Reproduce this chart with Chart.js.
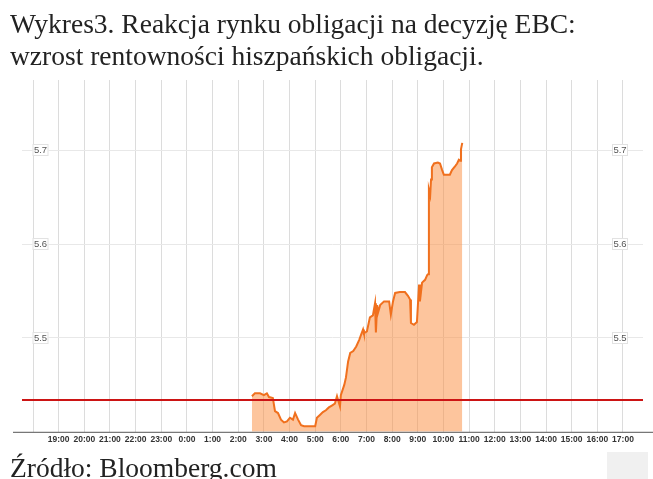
<!DOCTYPE html>
<html><head><meta charset="utf-8">
<script src="https://cdn.jsdelivr.net/npm/chart.js@4"></script>
<style>
html,body{margin:0;padding:0;background:#fff;width:653px;height:479px;overflow:hidden}
#wrap{position:relative;width:653px;height:479px}
canvas{position:absolute;left:0;top:0}
#title{position:absolute;left:10px;top:8px;font-family:"Liberation Serif","Times New Roman",serif;font-size:27.5px;line-height:32px;color:#222;white-space:nowrap}
#src{position:absolute;left:10px;top:452px;font-family:"Liberation Serif","Times New Roman",serif;font-size:27.5px;line-height:31px;color:#222;white-space:nowrap}
#box{position:absolute;left:607px;top:452px;width:41px;height:27px;background:#f0f0f0}
</style></head>
<body><div id="wrap">
<canvas id="c" width="653" height="479"></canvas>
<div id="title">Wykres3. Reakcja rynku obligacji na decyzję EBC:<br>wzrost rentowności hiszpańskich obligacji.</div>
<div id="src">Źródło: Bloomberg.com</div>
<div id="box"></div>
</div>
<script>
// Axis: hours counted from 18:00 of the previous day
const tickLabels = ["", "19:00","20:00","21:00","22:00","23:00","0:00","1:00","2:00","3:00","4:00","5:00","6:00","7:00","8:00","9:00","10:00","11:00","12:00","13:00","14:00","15:00","16:00","17:00"];
const yTickValues = [5.5, 5.6, 5.7];
const previousClose = 5.434;

// Spanish 10Y yield, intraday (clock times, next day)
const times = ["2:32","2:39","2:51","3:00","3:07","3:12","3:21","3:26","3:33","3:40","3:47","3:54","4:01","4:08","4:13","4:20","4:27","4:34","4:43","4:53","5:00","5:04","5:11","5:18","5:25","5:32","5:39","5:46","5:51","5:58","6:00","6:08","6:12","6:17","6:22","6:29","6:36","6:43","6:47","6:52","6:54","7:01","7:08","7:15","7:20","7:22","7:25","7:27","7:32","7:41","7:53","7:57","8:02","8:07","8:18","8:30","8:37","8:42","8:44","8:51","8:58","9:03","9:05","9:10","9:17","9:22","9:24","9:26","9:29","9:31","9:33","9:38","9:47","9:52","9:57","10:01","10:11","10:15","10:20","10:27","10:32","10:36","10:39","10:41","10:44"];
const yields = [5.438,5.441,5.441,5.439,5.441,5.437,5.436,5.422,5.420,5.413,5.410,5.411,5.415,5.413,5.420,5.413,5.407,5.406,5.406,5.406,5.406,5.415,5.418,5.421,5.423,5.426,5.428,5.430,5.438,5.427,5.439,5.450,5.458,5.475,5.484,5.486,5.491,5.498,5.503,5.509,5.505,5.507,5.522,5.524,5.537,5.506,5.535,5.527,5.535,5.539,5.539,5.525,5.539,5.548,5.549,5.549,5.545,5.541,5.516,5.514,5.517,5.557,5.539,5.559,5.562,5.567,5.568,5.658,5.652,5.669,5.682,5.686,5.687,5.686,5.679,5.674,5.674,5.674,5.679,5.683,5.686,5.690,5.689,5.701,5.708];

function toHours(t){ const [h,m]=t.split(':').map(Number); return ((h+24-18)%24) + m/60; }
const series = times.map((t,i)=>({x:toHours(t), y:yields[i]}));

const extras = {
  id:'extras',
  afterDraw(chart){
    const ctx=chart.ctx, xs=chart.scales.x, ys=chart.scales.y, a=chart.chartArea;
    ctx.save();
    ctx.strokeStyle='#555'; ctx.lineWidth=1;
    ctx.beginPath(); ctx.moveTo(13, a.bottom+0.5); ctx.lineTo(chart.width, a.bottom+0.5); ctx.stroke();
    ctx.font='9.5px "Liberation Sans", Arial, sans-serif';
    ctx.textAlign='center'; ctx.textBaseline='middle';
    const lx = xs.getPixelForValue(0), rx = xs.getPixelForValue(tickLabels.length-1);
    yTickValues.forEach(v=>{
      const py = Math.round(ys.getPixelForValue(v));
      [lx+7.5, rx-3].forEach(cx=>{
        ctx.fillStyle='#fff'; ctx.strokeStyle='#e2e2e2';
        ctx.fillRect(cx-8, py-6, 16, 12);
        ctx.strokeRect(cx-8+0.5, py-6+0.5, 15, 11);
        ctx.fillStyle='#555';
        ctx.fillText(v.toFixed(1), cx, py+0.5);
      });
    });
    ctx.restore();
  }
};

new Chart(document.getElementById('c'), {
  type:'line',
  data:{datasets:[
    {data:series, borderColor:'rgb(240,112,30)', borderWidth:2, backgroundColor:'rgba(252,140,60,0.5)', fill:'start', pointRadius:0, tension:0, order:2},
    {data:[{x:-0.43,y:previousClose},{x:23.78,y:previousClose}], borderColor:'rgb(204,20,20)', borderWidth:2, pointRadius:0, fill:false, order:1}
  ]},
  options:{
    responsive:false, animation:false,
    plugins:{legend:{display:false}, tooltip:{enabled:false}},
    layout:{padding:{left:22, right:10, top:80, bottom:31}},
    scales:{
      x:{type:'linear', min:-0.43, max:23.78,
        afterBuildTicks(s){ s.ticks = tickLabels.map((_,i)=>({value:i})); },
        grid:{color:'#dcdcdc', drawTicks:false},
        border:{display:false},
        ticks:{autoSkip:false, maxRotation:0, padding:3, color:'#333',
          font:{family:'"Liberation Sans", Arial, sans-serif', size:8.5, weight:'bold'},
          callback:(v)=>tickLabels[v] ?? ''}
      },
      y:{type:'linear', min:5.4, max:5.775,
        afterBuildTicks(s){ s.ticks = yTickValues.map(v=>({value:v})); },
        grid:{color:'#e8e8e8', drawTicks:false},
        border:{display:false},
        ticks:{display:false}
      }
    }
  },
  plugins:[extras]
});
</script>
</body></html>
